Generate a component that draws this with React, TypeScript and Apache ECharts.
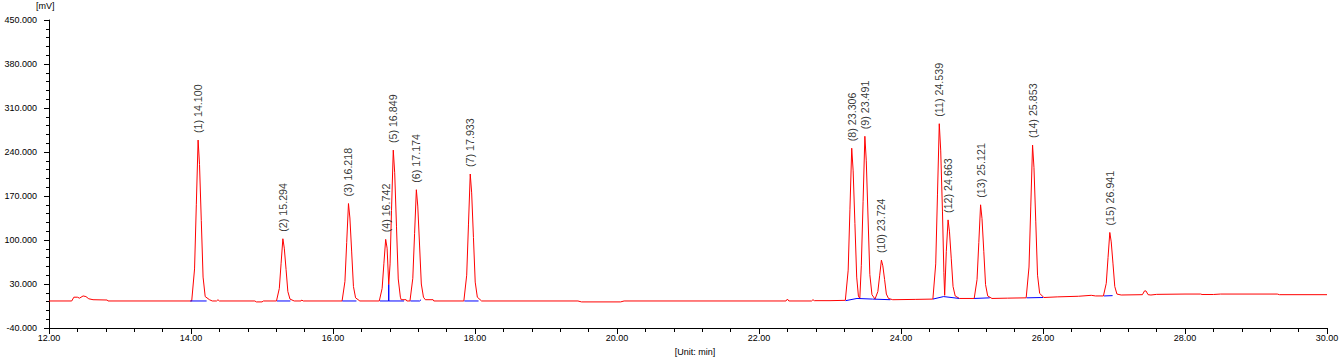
import React, { useEffect, useRef } from "react";
import * as echarts from "echarts";

// Peak apex retention times (min) and heights (mV)
const peakTimes = [14.1, 15.294, 16.218, 16.742, 16.849, 17.174, 17.933, 23.306, 23.491, 23.724, 24.539, 24.663, 25.121, 25.853, 26.941];
const peakHeights = [259, 102, 158, 101, 243, 180, 205, 246, 265, 68, 285, 132, 156, 251, 112];

// Axis tick values
const yMajorTicks = [-40, 30, 100, 170, 240, 310, 380, 450];
const yMinorTicks = [-26, -12, 2, 16, 44, 58, 72, 86, 114, 128, 142, 156, 184, 198, 212, 226, 254, 268, 282, 296, 324, 338, 352, 366, 394, 408, 422, 436];

// Detector signal (red trace), [time min, mV]
const redTrace1: number[][] = [
  [12.0, 3], [12.32, 3], [12.35, 9], [12.4, 9], [12.43, 7.5], [12.48, 11], [12.52, 10], [12.56, 6.5], [12.62, 5], [12.82, 4.5], [12.83, 3],
  [14.01, 3], [14.05, 54], [14.075, 156], [14.1, 259], [14.12, 220], [14.145, 131], [14.17, 41], [14.2, 10], [14.26, 5], [14.3, 3],
  [14.36, 3], [14.38, 5], [14.4, 3],
  [14.9, 3], [14.92, 1.5], [15.0, 1.5], [15.02, 3],
  [15.204, 3], [15.244, 23], [15.269, 63], [15.294, 102], [15.314, 87], [15.339, 53], [15.364, 18], [15.394, 6], [15.454, 3],
  [15.55, 3], [15.56, 4.5], [15.58, 3],
  [16.128, 3], [16.168, 34], [16.193, 96], [16.218, 158], [16.238, 135], [16.263, 81], [16.288, 26], [16.318, 8], [16.378, 3],
  [16.652, 3],
];
const redTrace2: number[][] = [
  [16.692, 23], [16.717, 63], [16.742, 101], [16.762, 87], [16.785, 29], [16.804, 62], [16.824, 147], [16.849, 243], [16.869, 207],
  [16.894, 122], [16.919, 38], [16.949, 9], [16.96, 5], [17.03, 5], [17.04, 3],
  [17.084, 3], [17.124, 39], [17.149, 110], [17.174, 180], [17.194, 154], [17.219, 92], [17.244, 30], [17.274, 9], [17.3, 5], [17.41, 5], [17.42, 3],
  [17.843, 3], [17.883, 44], [17.908, 124], [17.933, 205], [17.953, 175], [17.978, 104], [18.003, 33], [18.033, 9], [18.093, 3],
  [19.45, 3], [19.5, 1.5], [20.05, 1.5], [20.1, 3],
  [22.38, 3], [22.4, 6], [22.42, 3],
  [22.74, 3], [22.76, 5], [22.78, 3.5], [23.0, 3.5],
];
const redTrace3: number[][] = [
  [23.216, 4], [23.256, 52], [23.281, 149], [23.306, 246], [23.326, 210], [23.351, 126], [23.376, 41], [23.4, 11], [23.42, 7],
  [23.441, 59], [23.466, 161], [23.491, 265], [23.511, 226], [23.536, 135], [23.561, 45], [23.591, 13], [23.634, 6],
  [23.674, 18], [23.699, 43], [23.724, 68], [23.744, 59], [23.769, 37], [23.794, 14], [23.824, 7], [23.884, 5],
  [24.2, 5.5], [24.449, 6], [24.489, 62], [24.514, 173], [24.539, 285], [24.559, 243], [24.584, 146], [24.604, 48], [24.615, 12],
  [24.638, 82], [24.663, 132], [24.683, 113], [24.708, 70], [24.733, 26], [24.763, 11], [24.823, 7],
];
const redTrace4: number[][] = [
  [25.031, 7], [25.071, 37], [25.096, 96], [25.121, 156], [25.141, 134], [25.166, 82], [25.191, 29], [25.221, 11], [25.281, 7],
  [25.5, 7.5], [25.763, 8], [25.803, 57], [25.828, 154], [25.853, 251], [25.873, 215], [25.898, 130], [25.923, 44], [25.953, 15], [26.013, 8.5],
  [26.2, 9.5], [26.5, 10.5], [26.68, 12], [26.74, 11], [26.851, 11], [26.891, 31], [26.916, 72], [26.941, 112], [26.961, 97],
  [26.986, 62], [27.011, 26], [27.041, 14], [27.101, 12.5],
  [27.4, 13], [27.43, 19], [27.45, 19], [27.48, 13], [27.52, 12.5], [27.6, 13.5], [28.0, 14], [28.22, 14], [28.24, 13.3],
  [28.4, 13.3], [28.5, 14], [29.3, 14], [29.33, 13], [30.0, 13],
];

// Integration baselines (blue)
const blueSegments: number[][][] = [
  [[13.99, 3], [14.22, 3]],
  [[15.21, 3], [15.4, 3]],
  [[16.13, 3], [16.33, 3]],
  [[16.66, 3], [16.785, 3], [16.785, 29], [16.785, 3], [17.0, 3]],
  [[17.09, 3], [17.22, 3], [17.24, 5]],
  [[17.85, 3], [18.05, 3]],
  [[23.22, 3.5], [23.38, 7], [23.6, 6], [23.85, 5]],
  [[24.45, 6], [24.6, 10], [24.82, 7]],
  [[25.03, 7], [25.25, 8]],
  [[25.77, 8], [26.0, 8.5]],
  [[26.86, 11], [26.98, 11.5]],
];

const FONT = '"Liberation Sans", Arial, sans-serif';

export default function App() {
  const ref = useRef<HTMLDivElement>(null);
  useEffect(() => {
    if (!ref.current) return;
    const chart = echarts.init(ref.current, null, { renderer: "svg" });
    const redData = [...redTrace1, ...redTrace2, ...redTrace3, ...redTrace4];
    const blueSeries = blueSegments.map((seg) => ({
      type: "line",
      data: seg,
      showSymbol: false,
      silent: true,
      z: 3,
      lineStyle: { color: "#0000ff", width: 1 },
    }));
    chart.setOption({
      animation: false,
      backgroundColor: "#ffffff",
      textStyle: { fontFamily: FONT },
      grid: { left: 49, right: 16, top: 20, bottom: 30 },
      xAxis: {
        type: "value",
        min: 12,
        max: 30,
        interval: 2,
        axisLine: { show: true, onZero: false, lineStyle: { color: "#000", width: 1 } },
        axisTick: { show: true, length: 6, lineStyle: { color: "#000" } },
        minorTick: { show: true, splitNumber: 5, length: 4, lineStyle: { color: "#000" } },
        splitLine: { show: false },
        axisLabel: { formatter: (v: number) => v.toFixed(2), fontSize: 9, color: "#000", margin: 5, fontFamily: FONT },
      },
      yAxis: [
        {
          type: "value",
          min: -40,
          max: 450,
          position: "left",
          axisLine: { show: true, onZero: false, lineStyle: { color: "#000", width: 1 } },
          axisTick: { show: true, length: 5, customValues: yMajorTicks, lineStyle: { color: "#000" } },
          axisLabel: {
            customValues: yMajorTicks,
            formatter: (v: number) => v.toFixed(3),
            fontSize: 9,
            color: "#000",
            margin: 12,
            fontFamily: FONT,
          },
          splitLine: { show: false },
        },
        {
          type: "value",
          min: -40,
          max: 450,
          position: "left",
          axisLine: { show: false },
          axisTick: { show: true, length: 3, customValues: yMinorTicks, lineStyle: { color: "#000" } },
          axisLabel: { show: false },
          splitLine: { show: false },
        },
      ],
      graphic: [
        {
          type: "text",
          left: 36,
          top: 1,
          style: { text: "[mV]", font: `9px ${FONT}`, fill: "#000" },
        },
        {
          type: "text",
          x: 695,
          y: 352,
          style: { text: "[Unit: min]", font: `9px ${FONT}`, fill: "#000", align: "center", verticalAlign: "middle" },
        },
      ],
      series: [
        {
          type: "line",
          data: redData,
          showSymbol: false,
          silent: true,
          z: 2,
          lineStyle: { color: "#ff0000", width: 1 },
        },
        ...blueSeries,
        {
          type: "scatter",
          data: peakTimes.map((t, i) => [t, peakHeights[i]]),
          symbolSize: 0,
          silent: true,
          z: 4,
          label: {
            show: true,
            rotate: 90,
            position: "top",
            distance: 7,
            align: "left",
            verticalAlign: "middle",
            fontSize: 10.7,
            color: "#000",
            fontFamily: FONT,
            formatter: (p: any) => `(${p.dataIndex + 1}) ${peakTimes[p.dataIndex].toFixed(3)}`,
          },
        },
      ],
    });
    return () => chart.dispose();
  }, []);
  return (
    <div
      ref={ref}
      style={{ position: "fixed", left: 0, top: 0, width: 1343, height: 358, background: "#fff" }}
    />
  );
}
